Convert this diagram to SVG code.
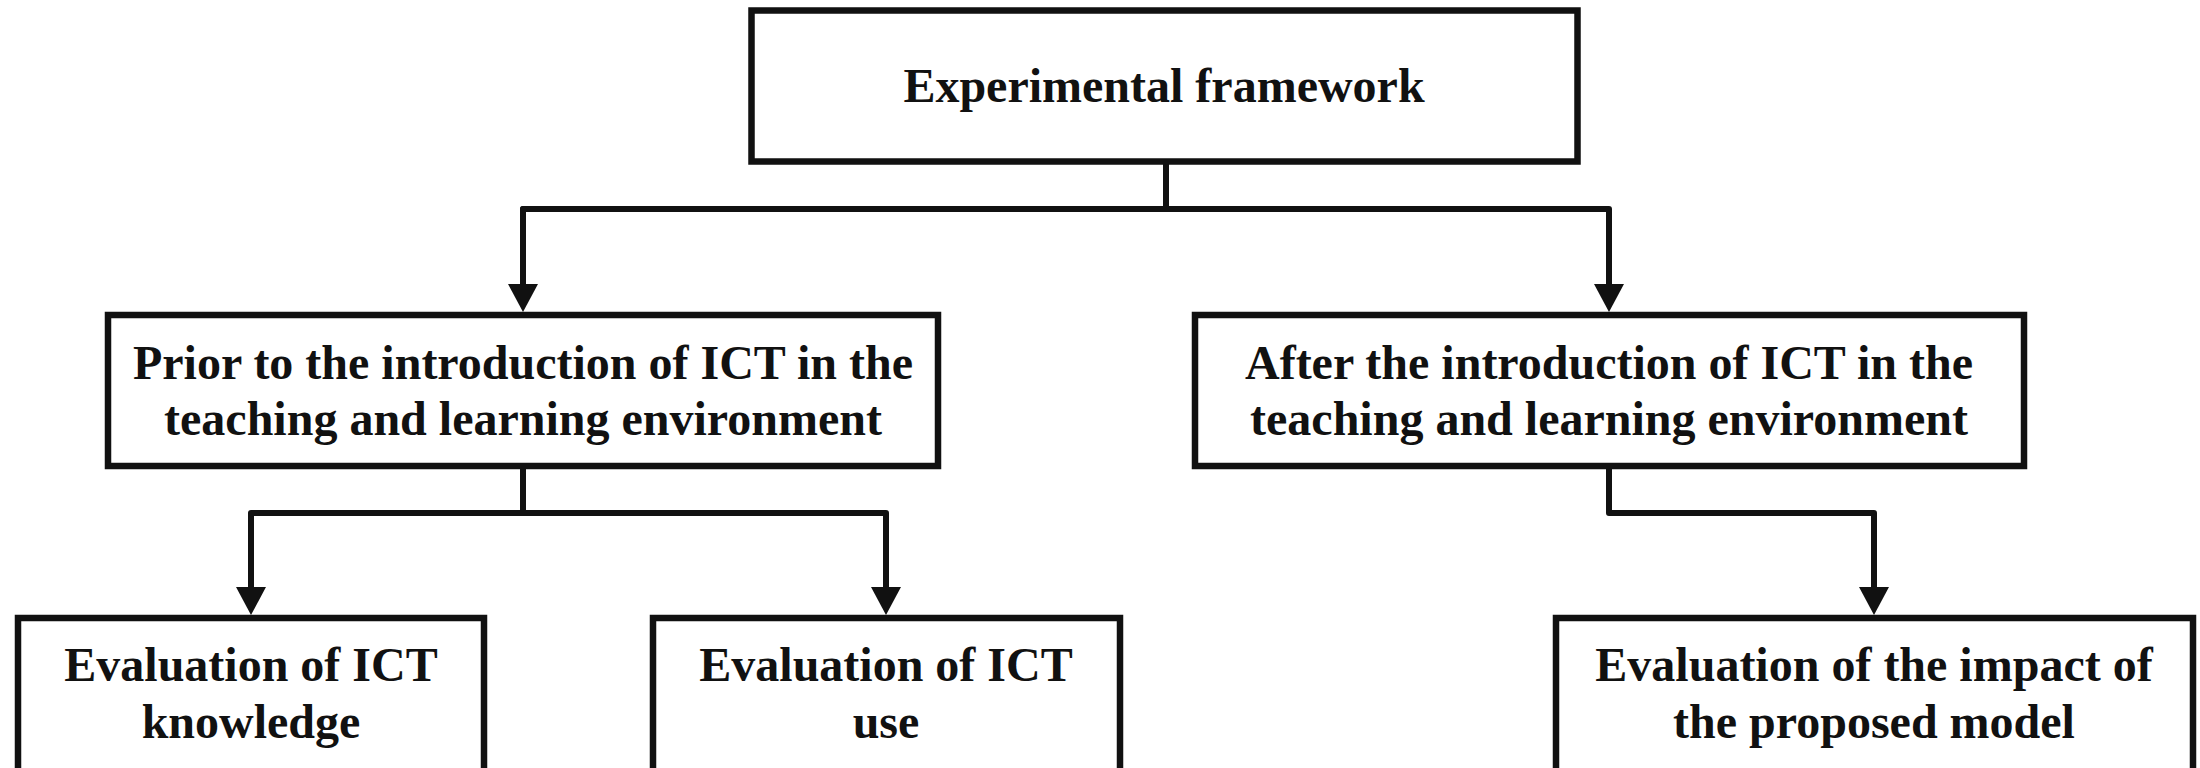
<svg xmlns="http://www.w3.org/2000/svg" width="2200" height="768" viewBox="0 0 2200 768">
<defs>
<style>
.box{fill:#fff;stroke:#111;stroke-width:6.5}
.con{fill:none;stroke:#111;stroke-width:6;stroke-linejoin:round}
.t{font-family:"Liberation Serif","Times New Roman",serif;font-weight:bold;font-size:48px;fill:#111;text-anchor:middle}
</style>
<marker id="ah" markerUnits="userSpaceOnUse" markerWidth="30" markerHeight="32" refX="0" refY="15" orient="auto" overflow="visible">
<path d="M0,0 L28,15 L0,30 Z" fill="#111"/>
</marker>
</defs>
<rect width="2200" height="768" fill="#fff"/>
<g id="connectors">
<path class="con" d="M1166,161 V209"/>
<path class="con" d="M523,284 V209 H1609 V284" marker-end="url(#ah)"/>
<path class="con" d="M1166,209 H523 V284" marker-end="url(#ah)"/>
<path class="con" d="M523,466 V513"/>
<path class="con" d="M523,513 H251 V587" marker-end="url(#ah)"/>
<path class="con" d="M523,513 H886 V587" marker-end="url(#ah)"/>
<path class="con" d="M1609,466 V513 H1874 V587" marker-end="url(#ah)"/>
</g>
<g id="n-top">
<rect class="box" x="751.5" y="10.5" width="826" height="151"/>
<text class="t" x="1164" y="102">Experimental framework</text>
</g>
<g id="n-prior">
<rect class="box" x="108" y="315" width="830" height="151"/>
<text class="t" x="523" y="379">Prior to the introduction of ICT in the</text>
<text class="t" x="523" y="435">teaching and learning environment</text>
</g>
<g id="n-after">
<rect class="box" x="1195" y="315" width="829" height="151"/>
<text class="t" x="1609" y="379">After the introduction of ICT in the</text>
<text class="t" x="1609" y="435">teaching and learning environment</text>
</g>
<g id="n-knowledge">
<rect class="box" x="18" y="618" width="466" height="200"/>
<text class="t" x="251" y="681">Evaluation of ICT</text>
<text class="t" x="251" y="738">knowledge</text>
</g>
<g id="n-use">
<rect class="box" x="653" y="618" width="467" height="200"/>
<text class="t" x="886" y="681">Evaluation of ICT</text>
<text class="t" x="886" y="738">use</text>
</g>
<g id="n-impact">
<rect class="box" x="1556" y="618" width="637" height="200"/>
<text class="t" x="1874" y="681">Evaluation of the impact of</text>
<text class="t" x="1874" y="738">the proposed model</text>
</g>
</svg>
